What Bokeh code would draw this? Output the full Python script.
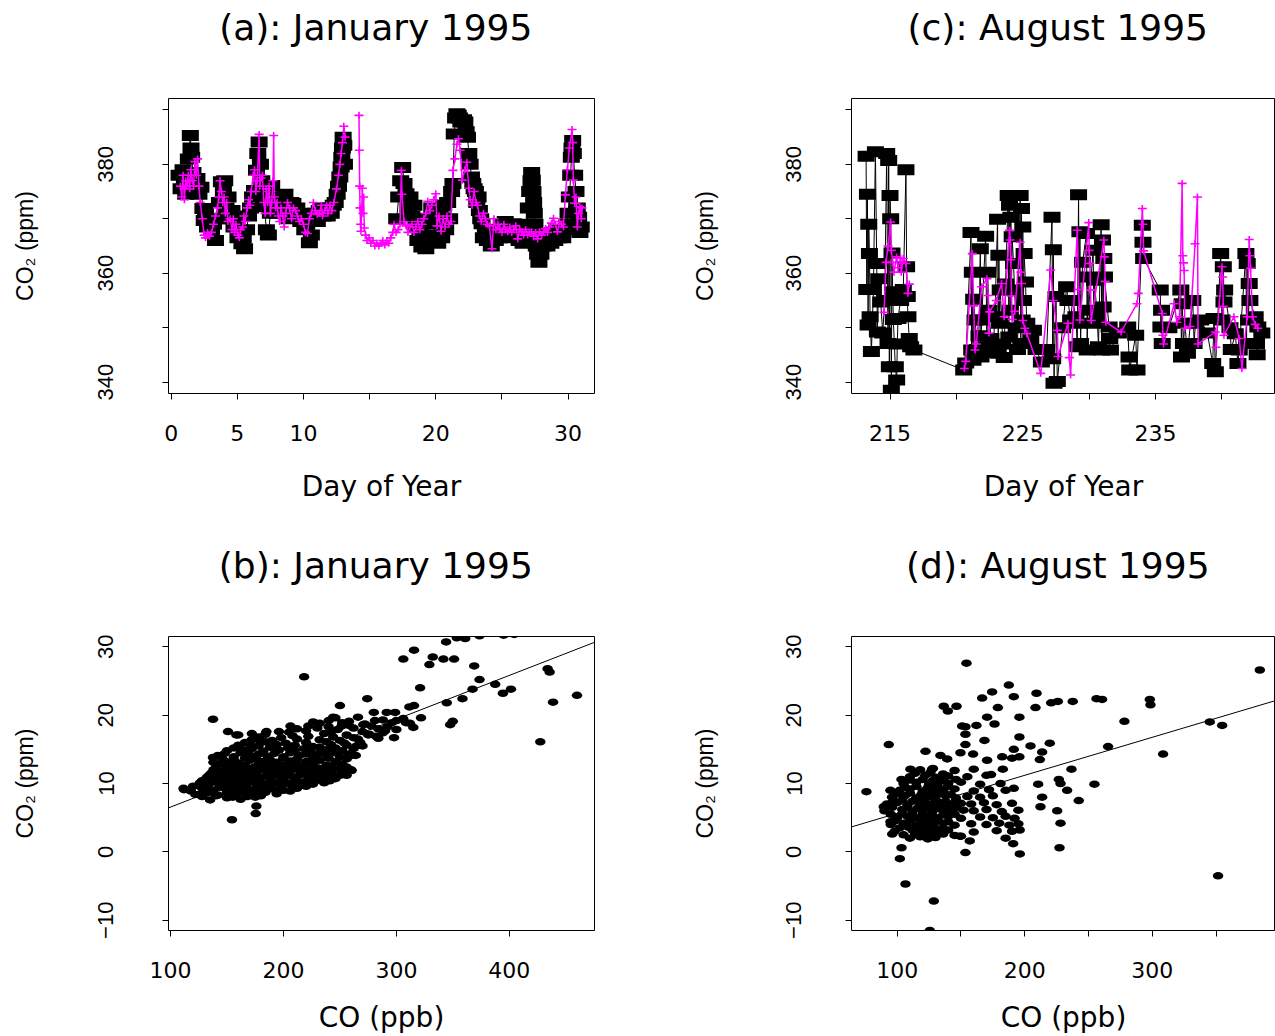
from bokeh.plotting import figure
from bokeh.models import FixedTicker, Range1d, Slope, Title
from bokeh.layouts import column, row
from bokeh.embed import file_html
from bokeh.resources import INLINE

nan = float("nan")

# ---------------- Panel (a): January 1995 time series ----------------
A_BLACK_DAY = [
    0.6, 0.75, 0.9, 1.0, 1.1, 1.2, 1.3, 1.45, 1.5, 1.55,
    1.65, 1.8, 1.95, 2.1, 2.25, 2.4, 2.5, 2.6, 2.75, 2.9,
    3.05, 3.2, 3.35, 3.5, 3.65, 3.8, 3.95, 4.05, 4.15, 4.3,
    4.45, 4.6, 4.75, 4.9, 5.05, 5.2, 5.35, 5.45, 5.55, 5.7,
    5.85, 6.0, 6.15, 6.3, 6.45, 6.55, 6.65, 6.75, 6.85, 6.95,
    7.05, 7.2, 7.35, 7.5, 7.6, 7.7, 7.85, 8.0, 8.15, 8.3,
    8.45, 8.6, 8.75, 8.9, 9.05, 9.2, 9.35, 9.5, 9.65, 9.8,
    9.95, 10.1, 10.25, 10.45, 10.6, 10.75, 10.9, 11.05, 11.2, 11.35,
    11.5, 11.65, 11.8, 11.95, 12.1, 12.25, 12.4, 12.55, 12.65, 12.75,
    12.85, 12.9, 12.95, 13.0, 13.05, 13.1, nan, 17.05, 17.2, 17.35,
    17.5, 17.6, 17.75, 17.9, 18.05, 18.2, 18.35, 18.5, 18.65, 18.8,
    18.95, 19.1, 19.25, 19.4, 19.55, 19.7, 19.85, 20.0, 20.15, 20.3,
    20.45, 20.6, 20.75, 20.9, 21.05, 21.2, 21.3, 21.4, 21.5, 21.6,
    21.7, 21.8, 21.9, 22.0, 22.1, 22.2, 22.3, 22.4, 22.5, 22.6,
    22.7, 22.8, 22.9, 23.0, 23.1, 23.2, 23.3, 23.4, 23.5, 23.6,
    23.75, 23.9, 24.05, 24.2, 24.35, 24.5, 24.65, 24.8, 24.95, 25.1,
    25.25, 25.4, 25.55, 25.7, 25.85, 26.0, 26.15, 26.3, 26.45, 26.6,
    26.75, 26.9, 27.0, 27.1, 27.2, 27.25, 27.3, 27.35, 27.4, 27.45,
    27.5, 27.55, 27.6, 27.7, 27.8, 27.95, 28.1, 28.25, 28.4, 28.55,
    28.7, 28.85, 29.0, 29.15, 29.3, 29.45, 29.6, 29.75, 29.9, 30.0,
    30.1, 30.2, 30.25, 30.3, 30.35, 30.4, 30.5, 30.6, 30.7, 30.8,
    30.9, 31.0,
]
A_BLACK_CO2 = [
    378, 375.5, 379, 376.5, 374.5, 378.5, 381, 385.3, 383, 381.3,
    378.5, 376, 377.4, 374.5, 375.8, 371.9, 369.7, 371, 368.5, 369.5,
    367.9, 369, 366, 370, 373, 376.8, 375, 377, 372, 374,
    370, 371.5, 368.5, 370, 366.5, 368, 365.4, 366.5, 364.5, 368,
    370.5, 372, 374, 375.2, 378.9, 382, 384.1, 380, 377, 374,
    372.2, 368, 367, 371, 376.1, 374, 373.4, 371, 373, 374,
    372, 374.5, 371.6, 370, 373, 372.8, 370.5, 372, 370.3, 369.5,
    371, 368, 369, 365.6, 367, 369.5, 371, 369.5, 371.5, 372,
    370.5, 371.9, 370.5, 372, 371, 372.5, 373, 374.5, 376, 377.7,
    379.5, 381.3, 383, 385, 383.5, 380, nan, 370, 374, 377,
    379.4, 376.5, 374.6, 372, 374, 370.5, 372.5, 368.5, 366, 368,
    364.8, 366, 364.5, 370, 366, 372, 367, 369.1, 365.5, 371,
    366.5, 372.5, 368, 373, 370, 375, 376.5, 385.6, 388.5, 389.3,
    389, 388.5, 387.8, 388, 388.2, 387.8, 386, 385, 382, 380,
    377.7, 376.5, 375.5, 375, 373, 374, 371.5, 370, 369.1, 366.5,
    368, 366, 366.7, 365, 367, 366, 368, 366.5, 369, 367.5,
    369.5, 367, 368.5, 366.5, 369.1, 367, 368, 366, 367, 365.5,
    366.7, 369, 372, 375, 377, 378.5, 377.1, 375, 373, 371,
    369, 367, 365, 363.5, 362, 363.5, 365, 366.5, 365, 367,
    365.5, 367.5, 366, 368, 366.5, 367.9, 366.5, 368, 369, 371,
    374, 378, 381.3, 383, 384.4, 382, 378, 375, 372, 370.3,
    367.5, 368.5,
]
A_PINK_DAY = [
    0.7, 0.8, 0.9, 1.0, 1.1, 1.2, 1.3, 1.4, 1.5, 1.6,
    1.7, 1.8, 1.9, 2.0, 2.1, 2.2, 2.35, 2.5, 2.6, 2.75,
    2.9, 3.05, 3.2, 3.35, 3.5, 3.6, 3.7, 3.8, 3.9, 4.0,
    4.1, 4.2, 4.3, 4.45, 4.6, 4.7, 4.8, 4.9, 5.05, 5.15,
    5.25, 5.4, 5.5, 5.6, 5.75, 5.85, 5.95, 6.05, 6.2, 6.3,
    6.4, 6.5, 6.65, 6.7, 6.8, 6.9, 7.0, 7.1, 7.2, 7.3,
    7.4, 7.5, 7.6, 7.7, 7.75, 7.8, 7.9, 8.0, 8.1, 8.2,
    8.3, 8.45, 8.55, 8.65, 8.8, 8.95, 9.1, 9.25, 9.4, 9.55,
    9.7, 9.85, 10.0, 10.15, 10.3, 10.45, 10.6, 10.75, 10.9, 11.05,
    11.2, 11.35, 11.45, 11.6, 11.75, 11.85, 12.0, 12.15, 12.3, 12.5,
    12.65, 12.75, 12.85, 12.95, 13.05, 13.15, nan, 14.2, 14.22, 14.25,
    14.28, 14.32, 14.35, 14.45, 14.5, 14.55, 14.6, 14.7, 14.8, 14.95,
    15.1, 15.25, 15.4, 15.55, 15.7, 15.85, 16.0, 16.15, 16.3, 16.45,
    16.6, 16.75, 16.85, 17.0, 17.15, 17.3, 17.4, 17.45, 17.6, 17.75,
    17.9, 18.05, 18.2, 18.35, 18.5, 18.65, 18.8, 18.95, 19.1, 19.25,
    19.4, 19.55, 19.7, 19.85, 20.0, 20.1, 20.25, 20.4, 20.55, 20.7,
    20.85, 21.0, 21.15, 21.3, 21.45, 21.6, 21.72, 21.85, 22.0, 22.2,
    22.35, 22.5, 22.6, 22.75, 22.9, 23.05, 23.15, 23.3, 23.45, 23.6,
    23.75, 23.9, 24.05, 24.25, 24.4, 24.55, 24.7, 24.85, 25.0, 25.15,
    25.3, 25.45, 25.6, 25.75, 25.9, 26.05, 26.2, 26.35, 26.5, 26.65,
    26.8, 26.95, 27.1, 27.25, 27.4, 27.55, 27.7, 27.85, 28.0, 28.15,
    28.3, 28.45, 28.6, 28.75, 28.9, 29.05, 29.2, 29.35, 29.5, 29.65,
    29.8, 29.95, 30.1, 30.3, 30.35, 30.4, 30.5, 30.6, 30.7, 30.8,
    30.9, 31.0, 31.05,
]
A_PINK_CO2 = [
    376, 374, 378, 373.5, 377, 376, 378, 375.5, 379, 377,
    376, 380.5, 378, 381, 376, 373, 370, 367, 366.5, 367.5,
    366.8, 367.5, 369, 370.5, 372, 374, 377, 375, 373, 374,
    371, 373, 369.5, 370, 368, 370, 367.5, 369, 367, 366.5,
    368, 368.5, 370.5, 369.5, 372, 373.5, 372.5, 375, 378, 379,
    375, 377, 385.5, 376, 377.5, 378, 373, 371, 375.5, 373,
    376, 371, 373, 377, 385.3, 374, 372, 373, 370.5, 369.5,
    372, 370.5, 368.5, 371, 373, 372, 370, 372, 371.5, 370.5,
    369.5, 370, 369, 367.5, 367.3, 370, 371, 373, 371.5, 370.8,
    371, 372.5, 370.5, 371.5, 372.5, 371, 372.5, 371.5, 373, 375.5,
    378, 380, 382, 384, 387, 385, nan, 389, 382.6, 376,
    372, 369, 367.7, 375.6, 371, 374, 368.3, 367, 366, 366.5,
    365.5, 366, 365, 365.5, 365, 365.5, 366, 365.2, 366, 365.5,
    366.5, 367.5, 369, 367.5, 368, 369, 378.9, 374.5, 369.5, 368.7,
    367.5, 368.5, 369, 367.5, 368.5, 369.5, 368, 369, 370, 371,
    373.2, 371.5, 372.5, 373.5, 374.6, 368.7, 370.5, 367.7, 370, 368.5,
    370.5, 369, 369.5, 378.9, 381, 383.7, 384.7, 382.6, 377.1, 379,
    380.4, 375.6, 373.5, 372.5, 375, 373, 372.5, 370.5, 369.5, 371,
    370, 369, 368.7, 364.5, 370, 368, 369, 368.2, 367.5, 369,
    368, 367.6, 368.5, 367.5, 368, 368.7, 366.3, 368, 367.6, 367,
    368, 367, 367.5, 367.6, 366.8, 367.5, 366.3, 367.6, 367, 367.6,
    368.2, 367.5, 368.5, 369.2, 370.1, 369, 367.6, 369.5, 369, 368.5,
    374.4, 379, 383, 386.4, 384, 377.1, 372.8, 374, 368.5, 371,
    372.2, 370, 372,
]

# ---------------- Panel (c): August 1995 time series ----------------
C_BLACK_DAY = [
    213.2, 213.25, 213.3, 213.35, 213.4, 213.45, 213.5, 213.6, 213.75, 213.9,
    214.0, 214.05, 214.15, 214.3, 214.45, 214.6, 214.75, 214.85, 214.9, 214.95,
    215.0, 215.05, 215.1, 215.15, 215.2, 215.25, 215.4, 215.5, 215.55, 215.6,
    215.8, 216.0, 216.2, 216.25, 216.3, 216.35, 216.45, 216.55, 216.8, 220.55,
    220.7, 221.1, 221.15, 221.2, 221.25, 221.3, 221.4, 221.6, 221.7, 221.8,
    221.85, 221.9, 222.2, 222.3, 222.35, 222.45, 222.6, 222.75, 222.9, 223.1,
    223.15, 223.2, 223.25, 223.3, 223.5, 223.6, 223.7, 223.9, 223.95, 224.0,
    224.05, 224.1, 224.15, 224.2, 224.3, 224.5, 224.6, 224.8, 224.85, 224.9,
    224.95, 225.0, 225.05, 225.1, 225.2, 225.3, 225.6, 225.8, 226.0, 226.4,
    226.8, 227.2, 227.25, 227.3, 227.35, 227.5, 227.6, 228.0, 228.3, 228.4,
    228.6, 228.75, 229.0, 229.1, 229.2, 229.25, 229.3, 229.35, 229.5, 229.8,
    229.85, 229.9, 229.95, 230.3, 230.35, 230.4, 230.6, 230.7, 230.9, 230.95,
    231.0, 231.05, 231.1, 231.15, 231.5, 231.55, 231.6, 232.2, 232.9, 233.0,
    233.05, 233.5, 233.6, 234.0, 234.05, 234.1, 235.35, 235.4, 235.45, 235.5,
    236.0, 236.9, 236.95, 237.0, 237.1, 237.2, 237.4, 237.8, 237.9, 238.0,
    238.4, 238.9, 239.3, 239.4, 239.5, 239.9, 240.0, 240.1, 240.15, 240.2,
    240.6, 240.7, 241.0, 241.2, 241.3, 241.8, 241.85, 241.9, 242.0, 242.05,
    242.1, 242.5, 242.6, 242.65, 242.7, 243.0,
]
C_BLACK_CO2 = [
    381.5, 357, 374.5, 350.5, 369, 363.6, 352, 345.6, 357, 382.3,
    361.8, 349.2, 359, 354.7, 349, 355, 382, 347.1, 380.7, 342.8,
    374.3, 370, 338.5, 363.7, 356.6, 351.5, 342.8, 340.4, 347, 351.7,
    355, 357, 379, 361.2, 355.7, 352, 348, 346.5, 345.9, 342.2,
    343.5, 367.5, 345.9, 360.2, 344, 355.2, 351.4, 346, 348.5, 364.5,
    344.6, 351.4, 366.8, 346.5, 360.2, 353.2, 348, 345.5, 352, 369.9,
    345.3, 363.3, 350.8, 356.9, 347, 344.5, 358, 374.3, 348.3, 372.5,
    353.2, 370.3, 356.9, 366.7, 361.8, 350, 346, 374.3, 347.1, 371.9,
    351.4, 368.5, 355, 363.6, 358.4, 350.8, 348, 349.5, 346, 343.7,
    346, 370.3, 344.3, 364.3, 339.8, 355.7, 340.1, 350, 357.5, 355,
    351.4, 355, 352, 346.5, 374.4, 350.8, 367.6, 347.1, 362, 367.3,
    345.9, 359.3, 353.2, 364.2, 350.8, 358.7, 352, 346.5, 368.9, 345.9,
    366.1, 353.8, 362.7, 359.3, 350.1, 348, 345.9, 349, 350.1, 344.6,
    342.2, 348.6, 342.2, 368.8, 365.7, 362.7, 356.9, 350.1, 353.2, 347.1,
    350, 356.9, 344.6, 354.4, 347.1, 350.8, 345.3, 355, 347.1, 350.8,
    351.4, 349, 343.4, 351.7, 341.9, 363.6, 351.4, 361.2, 354.7, 356.9,
    350, 346, 348.9, 343.4, 345.9, 363.6, 347.1, 361.8, 351.4, 358.1,
    355, 352, 347.1, 345, 350.1, 349,
]
C_PINK_DAY = [
    214.55, 214.7, 214.85, 215.05, 215.1, 215.2, 215.3, 215.5, 215.6, 215.8,
    215.85, 216.0, 216.2, 216.35, 216.45, nan, 220.6, 220.7, 221.2, 221.3,
    221.4, 221.5, 221.9, 222.3, 222.4, 222.45, 222.5, 223.0, 223.4, 223.6,
    224.0, 224.05, 224.1, 224.15, 224.2, 224.4, 224.8, 224.85, 224.9, 225.0,
    225.15, 225.3, 226.35, 227.1, 227.3, 227.6, 227.65, 228.4, 228.5, 228.6,
    229.1, 229.2, 229.3, 229.97, 230.0, 230.05, 230.1, 230.15, 231.1, 231.15,
    231.2, 231.25, 232.4, 233.6, 233.7, 234.0, 234.05, 234.1, 235.5, 235.55,
    235.6, 236.4, 236.6, 236.8, 237.0, 237.05, 237.1, 237.15, 237.2, 237.6,
    237.97, 238.15, 238.2, 239.5, 239.55, 240.0, 240.05, 240.1, 240.15, 240.9,
    241.3, 241.5, 241.9, 242.05, 242.1, 242.15, 242.3, 242.5, 242.7,
]
C_PINK_CO2 = [
    352.8, 362, 365, 369.4, 364.2, 362, 360.2, 363, 361, 362.8,
    360.2, 362.7, 361.8, 356.3, 358, nan, 342.5, 343.8, 363.6, 354,
    345.9, 347, 357.5, 359, 355.9, 349, 352.9, 355, 358.1, 352,
    367.9, 366.1, 362.5, 355.8, 351.5, 353, 365.7, 360.2, 358.1, 351.3,
    349.9, 348.9, 341.6, 360.6, 355, 349.5, 344.7, 350.8, 344.5, 341.3,
    367.9, 357, 351.4, 369.3, 364.2, 361.8, 356.9, 351.3, 366.1, 363,
    358.5, 351, 349.2, 354.4, 356.3, 371.9, 369, 364.1, 352.6, 348.6,
    347, 354.4, 351, 352, 376.5, 363.2, 361.9, 360.5, 349.9, 350.2,
    365.4, 374.0, 347, 349.2, 346.4, 361.2, 359.3, 353.9, 348.6, 352,
    348, 342.5, 352, 366.2, 363.2, 360.9, 352, 350.6, 349.9,
]

# ---------------- Panel (b): January CO vs CO2 ----------------
B_CO = [
    111.5, 137.6, 154.4, 176, 175.4, 218.3, 274.2, 250, 306.1, 315.6,
    321, 332.2, 329.2, 341.6, 344, 351.1, 353.5, 360.9, 373.6, 394.9,
    404.3, 368.9, 373.6, 367.4, 387.5, 394.3, 401.4, 344.6, 358.5, 347.6,
    349.9, 433.9, 435.7, 438.7, 427.4, 459.9, 321.8, 315.6, 311.5, 308.5,
    315, 298.8, 291.4, 297.9, 284, 287.8, 281, 275.1, 270.7, 264.7,
    260.3, 255.9, 244, 229.3, 214.5, 260.3, 247, 251.4, 244, 226.3,
    206.2, 205, 184.9, 179, 170.1, 161.2, 158.3, 150.9, 137.6, 128.7,
    125.7,
    135, 150, 162, 175,
    122, 132, 142, 150, 158, 166, 174, 184, 194,
    112, 128, 138, 146, 154, 162, 170, 180, 190, 200, 212,
    126, 134, 142, 150, 158, 166, 174, 184, 194, 204, 216, 226, 236,
    132, 140, 148, 156, 164, 172, 180, 190, 200, 210, 222, 234, 246,
    136, 144, 152, 160, 168, 176, 186, 196, 206, 218, 230, 242, 254,
    140, 150, 158, 166, 174, 184, 194, 206, 218, 230, 242, 256,
    138, 148, 160, 170, 182, 194, 206, 220, 232, 246,
    142, 156, 170, 186, 200, 214, 226, 238, 250, 264,
    150, 166, 182, 196, 210, 224, 238, 252,
    160, 178, 194, 210, 226, 242, 256, 270,
    172, 190, 212, 232, 250, 266,
    160, 172, 184, 208, 236, 256, 276,
    212, 230, 248, 262, 284, 300,
    232, 252, 272, 296, 312,
    246, 266, 306,
    280,
    128, 140, 155, 168, 180,
    118, 134, 150, 163, 177, 196, 206,
    120, 133, 143, 158, 167, 176, 187, 198, 208, 220,
    128, 138, 146, 154, 162, 170, 178, 188, 198, 210, 220, 231, 241,
    134, 144, 152, 160, 168, 177, 185, 195, 204, 214, 226, 238, 250,
    138, 148, 156, 164, 172, 181, 190, 200, 212, 224, 236, 248, 260,
    144, 154, 163, 178, 188, 200, 212, 226, 238, 252,
    146, 156, 166, 176, 188, 200, 212, 226, 240, 256,
    148, 162, 178, 192, 206, 220, 232, 246, 258,
    156, 172, 188, 204, 218, 232, 246, 262,
    166, 184, 202, 220, 238, 254, 268,
    178, 198, 222, 244, 262, 282,
    196, 220, 242, 270, 290,
    222, 240, 258, 278, 292,
    240, 258, 288, 300,
]
B_CO2 = [
    9.3, 19.4, 4.7, 6.7, 5.6, 25.6, 22.4, 21.4, 28.2, 29.5,
    24, 28.5, 27.4, 28.2, 30.7, 28.2, 31.3, 31.2, 31.6, 31.7,
    31.8, 27.2, 25.2, 23.8, 24.5, 23.2, 23.8, 21.8, 22.4, 18.6,
    19.1, 26.8, 26.3, 21.9, 16.1, 22.9, 19.6, 21.4, 21.2, 18.9,
    18.2, 20.4, 20.4, 16.7, 16.6, 17.4, 19.2, 17.1, 18.6, 15.5,
    11.9, 11.2, 11.1, 10.5, 9.7, 14.1, 13.2, 18.4, 19.7, 19,
    18.4, 17.5, 17.6, 16.3, 15.8, 15.2, 17.1, 17.6, 13.8, 9.7,
    8.4,
    7.6, 7.9, 7.7, 8.0,
    8.4, 8.6, 8.3, 8.7, 8.4, 8.6, 8.3, 8.7, 8.5,
    9.1, 9.3, 9.0, 9.4, 9.1, 9.3, 9.0, 9.4, 9.2, 9.0, 9.3,
    10.1, 9.9, 10.2, 9.8, 10.1, 10.0, 10.2, 9.9, 10.1, 10.0, 10.2, 9.9, 10.1,
    10.9, 10.7, 11.0, 10.8, 10.6, 10.9, 10.8, 11.0, 10.7, 10.9, 10.8, 11.0, 10.7,
    11.5, 11.7, 11.4, 11.8, 11.6, 11.5, 11.7, 11.5, 11.8, 11.6, 11.5, 11.7, 11.6,
    12.3, 12.5, 12.2, 12.6, 12.4, 12.3, 12.5, 12.4, 12.6, 12.3, 12.5, 12.4,
    13.1, 13.3, 13.0, 13.4, 13.2, 13.1, 13.3, 13.2, 13.4, 13.1,
    14.1, 13.9, 14.2, 14.0, 13.9, 14.1, 14.0, 14.2, 13.9, 14.1,
    14.8, 14.9, 14.7, 14.9, 14.8, 14.6, 14.9, 14.8,
    15.6, 15.5, 15.7, 15.6, 15.4, 15.7, 15.6, 15.5,
    16.4, 16.3, 16.5, 16.4, 16.3, 16.5,
    17.1, 17.3, 17.2, 17.0, 17.3, 17.1, 17.2,
    18.0, 18.1, 17.9, 18.1, 18.0, 17.9,
    18.8, 18.9, 18.7, 18.9, 18.8,
    19.6, 19.7, 19.5,
    20.4,
    8.1, 8.2, 8.0, 8.1, 8.2,
    8.9, 8.8, 9.0, 8.9, 8.8, 9.0, 8.9,
    9.6, 9.7, 9.5, 9.6, 9.7, 9.5, 9.6, 9.7, 9.5, 9.6,
    10.4, 10.3, 10.5, 10.4, 10.3, 10.5, 10.4, 10.3, 10.5, 10.4, 10.3, 10.5, 10.4,
    11.2, 11.3, 11.1, 11.2, 11.3, 11.1, 11.2, 11.3, 11.1, 11.2, 11.3, 11.1, 11.2,
    12.0, 11.9, 12.1, 12.0, 11.9, 12.1, 12.0, 11.9, 12.1, 12.0, 11.9, 12.1, 12.0,
    12.8, 12.9, 12.7, 12.8, 12.9, 12.7, 12.8, 12.9, 12.7, 12.8,
    13.6, 13.5, 13.7, 13.6, 13.5, 13.7, 13.6, 13.5, 13.7, 13.6,
    14.4, 14.5, 14.3, 14.4, 14.5, 14.3, 14.4, 14.5, 14.3,
    15.2, 15.1, 15.3, 15.2, 15.1, 15.3, 15.2, 15.1,
    16.0, 16.1, 15.9, 16.0, 16.1, 15.9, 16.0,
    16.8, 16.7, 16.9, 16.8, 16.7, 16.9,
    17.6, 17.7, 17.5, 17.6, 17.7,
    18.4, 18.3, 18.5, 18.4, 18.3,
    19.2, 19.1, 19.3, 19.2,
]
B_SLOPE = 0.0642
B_INTERCEPT = 0.13

# ---------------- Panel (d): August CO vs CO2 ----------------
D_CO = [
    75.9, 93.4, 122.2, 154.3, 136.5, 139.7, 146.5, 166.6, 174.4, 187.5,
    191.4, 178.9, 170.5, 176.3, 195.8, 209.2, 208.4, 220.7, 225.9, 237.6,
    256.2, 260.6, 298, 298.5, 278.1, 265.3, 308.4, 345, 354.7, 384.2,
    351.5, 106.5, 128.7, 125.6, 102.1, 103.4, 153.5, 196.1, 190.9, 156.9,
    149.1, 227.2, 228, 225.4, 212.3, 213.6, 242.3, 254.6, 233.2, 228,
    226.7, 236.6, 210.5, 191.4, 195.8, 195.8, 204.5, 213.6, 211.8, 219.6,
    191.4, 190.1, 182.3, 182.8, 181, 173.6, 170.5, 168.4, 162.1, 153.5,
    150.9, 153.5, 153.5, 149.6, 159.5, 139.2, 133.9, 110.4, 127.4, 103.4,
    94.7, 89.5, 94.7, 96.1,
    110, 118, 124, 130, 150, 185,
    98, 112, 118, 125, 132, 140, 160, 178, 190, 196,
    95, 105, 115, 122, 128, 136, 145, 158, 170, 180, 188, 195,
    100, 108, 116, 124, 131, 140, 150, 165, 175, 185, 192,
    90, 104, 112, 120, 128, 135, 142, 152, 160, 170, 182, 195,
    92, 100, 108, 118, 126, 134, 142, 150, 158, 168, 178, 190,
    96, 106, 115, 124, 130, 138, 146, 155, 165, 175,
    102, 110, 120, 128, 136, 145, 160, 172, 185,
    105, 115, 125, 132, 140, 150, 165,
    110, 122, 130, 140, 155, 170,
    118, 128, 145, 160,
    105, 114, 121, 127, 136, 145,
    102, 109, 116, 122, 129, 136,
    98, 110, 119, 125, 132, 140,
    95, 104, 112, 120, 127, 136, 145,
    96, 108, 116, 124, 131, 138, 147,
    97, 104, 112, 121, 130, 138, 146,
    100, 110, 119, 127, 134, 142,
    106, 115, 124, 132, 140,
    110, 120, 128, 136, 146,
    114, 126, 136,
]
D_CO2 = [
    8.8, 15.7, 14.7, 27.6, 21.3, 20.6, 21.3, 22.5, 23.4, 24.4,
    22.7, 21.1, 19.7, 18.7, 19.7, 23.2, 21.1, 21.8, 22, 22,
    22.4, 22.3, 22.3, 21.5, 19.1, 15.4, 14.3, 19, 18.5, 26.6,
    -3.5, -4.7, -7.2, -11.5, -1, 0.6, -0.1, -0.3, 1.2, 1.6,
    2.3, 0.6, 4.2, 6.0, 6.6, 8.0, 7.5, 9.9, 9.0, 10,
    10.6, 12.1, 9.9, 9.3, 13.9, 16.8, 15.5, 14.6, 13.5, 15.9,
    15, 13.7, 13.9, 12.1, 10, 11.3, 13.4, 16.3, 18.5, 18.3,
    18.4, 17.2, 15.7, 14.5, 14.3, 13.6, 14.1, 12.1, 12.1, 10.6,
    9.0, 6.6, 4.4, 2.6,
    2.0, 2.2, 1.9, 2.1, 2.3, 2.0,
    3.0, 3.2, 2.9, 3.1, 3.0, 3.2, 2.9, 3.1, 3.0, 3.2,
    4.0, 4.2, 3.9, 4.1, 4.0, 4.2, 3.9, 4.1, 4.0, 4.2, 3.9, 4.1,
    5.0, 5.2, 4.9, 5.1, 5.0, 5.2, 4.9, 5.1, 5.0, 5.2, 4.9,
    6.0, 6.2, 5.9, 6.1, 6.0, 6.2, 5.9, 6.1, 6.0, 6.2, 5.9, 6.1,
    7.0, 7.2, 6.9, 7.1, 7.0, 7.2, 6.9, 7.1, 7.0, 7.2, 6.9, 7.1,
    8.0, 8.2, 7.9, 8.1, 8.0, 8.2, 7.9, 8.1, 8.0, 8.2,
    9.0, 9.2, 8.9, 9.1, 9.0, 9.2, 8.9, 9.1, 9.0,
    10.0, 10.2, 9.9, 10.1, 10.0, 10.2, 9.9,
    11.0, 11.2, 10.9, 11.1, 11.0, 11.2,
    12.0, 12.2, 11.9, 12.1,
    2.5, 2.6, 2.4, 2.5, 2.6, 2.4,
    3.5, 3.6, 3.4, 3.5, 3.6, 3.4,
    4.5, 4.6, 4.4, 4.5, 4.6, 4.4,
    5.5, 5.6, 5.4, 5.5, 5.6, 5.4, 5.5,
    6.5, 6.6, 6.4, 6.5, 6.6, 6.4, 6.5,
    7.5, 7.6, 7.4, 7.5, 7.6, 7.4, 7.5,
    8.5, 8.6, 8.4, 8.5, 8.6, 8.4,
    9.5, 9.6, 9.4, 9.5, 9.6,
    10.5, 10.6, 10.4, 10.5, 10.6,
    11.5, 11.6, 11.4,
]
D_SLOPE = 0.0556
D_INTERCEPT = 0.08

# ---------------- Axis ticks / labels ----------------
TS_Y_TICKS = [340, 350, 360, 370, 380, 390]
TS_Y_HIDDEN = [350, 370, 390]
A_X_TICKS = [0, 5, 10, 15, 20, 25, 30]
A_X_HIDDEN = [15, 25]
C_X_TICKS = [215, 220, 225, 230, 235, 240]
C_X_HIDDEN = [220, 230, 240]
SC_Y_TICKS = [-10, 0, 10, 20, 30]
B_X_TICKS = [100, 200, 300, 400]
D_X_TICKS = [100, 150, 200, 250, 300, 350]
D_X_HIDDEN = [150, 250, 350]

TITLES = ["(a):  January 1995", "(c):  August 1995", "(b):  January 1995", "(d):  August 1995"]
X_LABEL_TS = "Day of Year"
X_LABEL_SC = "CO (ppb)"
Y_LABEL = "CO\u2082 (ppm)"

MAGENTA = "#FF00FF"


def make_fig(width, height, left, right, top, bottom, xr, yr, title,
             xticks, xhidden, yticks, yhidden, xlabel, xlabel_standoff, xlabel_lh,
             ytick_standoff, ylabel_standoff):
    p = figure(width=width, height=height, x_range=Range1d(*xr), y_range=Range1d(*yr),
               output_backend="svg", toolbar_location=None,
               min_border_left=left, min_border_right=right,
               min_border_top=top, min_border_bottom=bottom,
               background_fill_color="white", border_fill_color="white")
    # invisible spacer between the frame and the title
    p.add_layout(Title(text=" ", text_font_size="2px", standoff=47), "above")
    p.title.text = title
    p.title.align = "center"
    p.title.text_font = "DejaVu Sans"
    p.title.text_font_size = "36px"
    p.title.text_font_style = "normal"
    p.title.text_color = "black"
    p.title.standoff = 0
    p.xgrid.visible = False
    p.ygrid.visible = False
    p.outline_line_color = "black"
    p.outline_line_width = 1
    p.outline_line_alpha = 1

    xa = p.xaxis[0]
    xa.ticker = FixedTicker(ticks=xticks)
    xa.major_label_overrides = {t: "" for t in xhidden}
    xa.axis_line_color = None
    xa.major_tick_in = 0
    xa.major_tick_out = 6
    xa.major_tick_line_color = "black"
    xa.minor_tick_line_color = None
    xa.major_label_text_font = "DejaVu Sans"
    xa.major_label_text_font_size = "22px"
    xa.major_label_text_color = "black"
    xa.major_label_standoff = 25
    xa.axis_label = xlabel
    xa.axis_label_text_font = "DejaVu Sans"
    xa.axis_label_text_font_size = "28px"
    xa.axis_label_text_font_style = "normal"
    xa.axis_label_text_color = "black"
    xa.axis_label_text_line_height = xlabel_lh
    xa.axis_label_standoff = xlabel_standoff

    ya = p.yaxis[0]
    ya.ticker = FixedTicker(ticks=yticks)
    ya.major_label_overrides = {t: "" for t in yhidden}
    ya.axis_line_color = None
    ya.major_tick_in = 0
    ya.major_tick_out = 6
    ya.major_tick_line_color = "black"
    ya.minor_tick_line_color = None
    ya.major_label_orientation = "vertical"
    ya.major_label_text_font = "Liberation Sans"
    ya.major_label_text_font_size = "22px"
    ya.major_label_text_color = "black"
    ya.major_label_standoff = ytick_standoff
    ya.axis_label = Y_LABEL
    ya.axis_label_text_font = "Liberation Sans"
    ya.axis_label_text_font_size = "23px"
    ya.axis_label_text_font_style = "normal"
    ya.axis_label_text_color = "black"
    ya.axis_label_standoff = ylabel_standoff
    return p


def draw_ts(p, bx, by, mx, my):
    p.line(bx, by, line_color="black", line_width=1)
    p.rect(bx, by, width=17, height=11, width_units="screen", height_units="screen",
           fill_color="black", line_color=None)
    p.line(mx, my, line_color=MAGENTA, line_width=1.5)
    p.rect(mx, my, width=9, height=1.6, width_units="screen", height_units="screen",
           fill_color=MAGENTA, line_color=None)
    p.rect(mx, my, width=1.6, height=7, width_units="screen", height_units="screen",
           fill_color=MAGENTA, line_color=None)


def draw_sc(p, x, y, slope, intercept):
    p.ellipse(x, y, width=10.5, height=7.5, width_units="screen", height_units="screen",
              fill_color="black", line_color=None)
    p.add_layout(Slope(gradient=slope, y_intercept=intercept, line_color="black", line_width=1))


LW, RW = 654, 621      # left / right column widths
TH, BH = 530, 506      # top / bottom row heights

fa = make_fig(LW, TH, 168, 60, 98, 137, (-0.2, 32.0), (337.9, 392.1), TITLES[0],
              A_X_TICKS, A_X_HIDDEN, TS_Y_TICKS, TS_Y_HIDDEN, X_LABEL_TS, 26, 1.2, 49, 58)
draw_ts(fa, A_BLACK_DAY, A_BLACK_CO2, A_PINK_DAY, A_PINK_CO2)

fc = make_fig(RW, TH, 197, 0, 98, 137, (212.1, 244.03), (337.9, 392.1), TITLES[1],
              C_X_TICKS, C_X_HIDDEN, TS_Y_TICKS, TS_Y_HIDDEN, X_LABEL_TS, 26, 1.2, 44, 66)
draw_ts(fc, C_BLACK_DAY, C_BLACK_CO2, C_PINK_DAY, C_PINK_CO2)

fb = make_fig(LW, BH, 168, 60, 106, 106, (98.2, 475.4), (-11.5, 31.5), TITLES[2],
              B_X_TICKS, [], SC_Y_TICKS, [], X_LABEL_SC, 20, 0.7, 49, 58)
draw_sc(fb, B_CO, B_CO2, B_SLOPE, B_INTERCEPT)

fd = make_fig(RW, BH, 197, 0, 106, 106, (64.2, 396.5), (-11.5, 31.5), TITLES[3],
              D_X_TICKS, D_X_HIDDEN, SC_Y_TICKS, [], X_LABEL_SC, 20, 0.7, 44, 66)
draw_sc(fd, D_CO, D_CO2, D_SLOPE, D_INTERCEPT)

layout = column(row(fa, fc), row(fb, fd))

with open("out.html", "w") as f:
    f.write(file_html(layout, INLINE))
